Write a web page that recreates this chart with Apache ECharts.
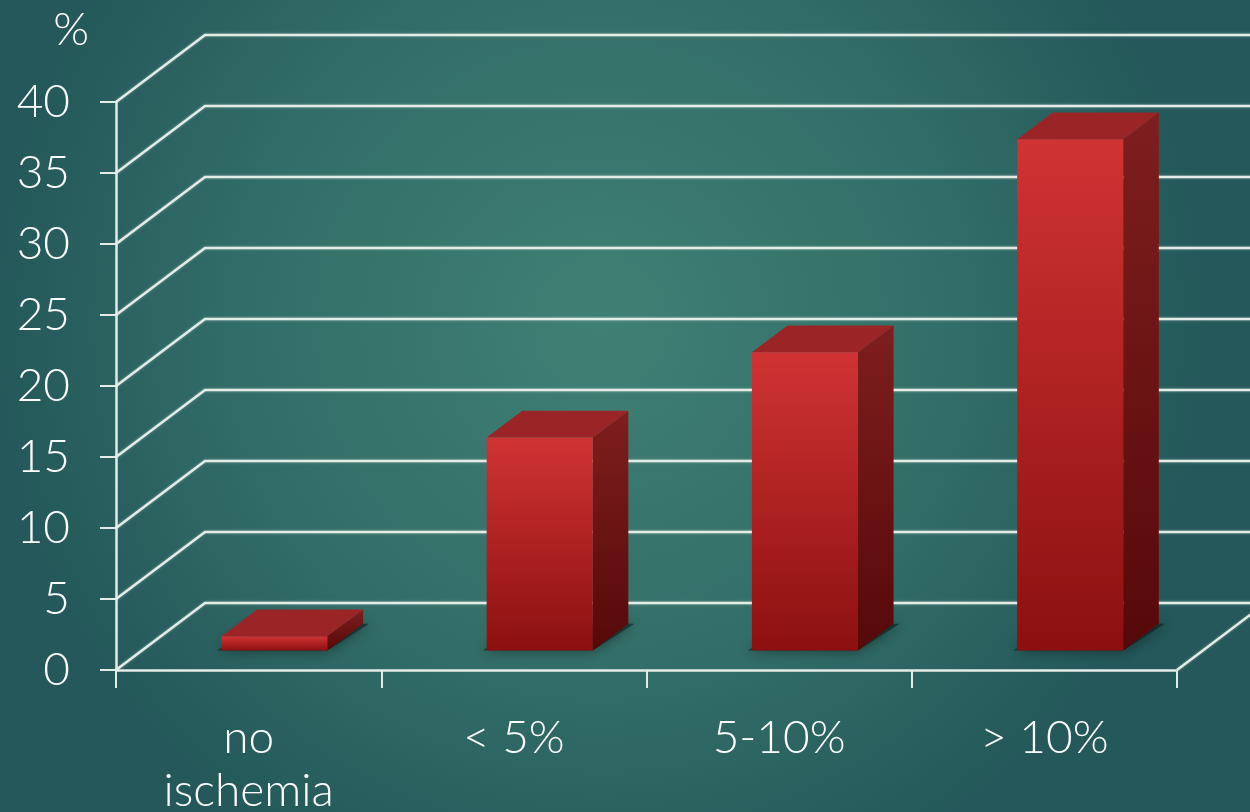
<!DOCTYPE html>
<html>
<head>
<meta charset="utf-8">
<title>Ischemia</title>
<script src="https://cdn.jsdelivr.net/npm/echarts@6/dist/echarts.min.js"></script>
<style>
  html, body { margin: 0; padding: 0; background: #2c6562; }
  #chart { width: 1250px; height: 812px; }
</style>
</head>
<body>
<div id="chart"></div>
<script>
// Categories along the floor and the percentage for each one
const categories = ['no\nischemia', '< 5%', '5-10%', '> 10%'];
const percentValues = [1, 15, 21, 36];
// Value ticks of the vertical axis (each gets a wall gridline)
const yTicks = [0, 5, 10, 15, 20, 25, 30, 35, 40];

// Perspective: depth vector of the floor (front edge -> back wall), in px
const DEPTH_X = 89;
const DEPTH_Y = -67;
// Bars stand between these depth fractions of the floor
const BAR_FRONT = 0.29;
const BAR_BACK = 0.69;
const BAR_WIDTH_RATIO = 0.4;

const FONT = 'Lato, "Open Sans", sans-serif';
const FONT_WEIGHT = 300;
const LINE_COLOR = '#e4ece8';

const chart = echarts.init(document.getElementById('chart'), null, { renderer: 'canvas' });

function linear(c0, c1) {
  return new echarts.graphic.LinearGradient(0, 0, 0, 1, [
    { offset: 0, color: c0 },
    { offset: 1, color: c1 }
  ]);
}

// Wall gridlines: front axis point -> diagonal to back wall -> across the wall
function renderGrid(params, api) {
  const v = api.value(0);
  const cs = params.coordSys;
  const y = api.coord([0, v])[1];
  const x0 = cs.x;
  const pts = [
    [x0, y],
    [x0 + DEPTH_X, y + DEPTH_Y],
    [api.getWidth() + 20, y + DEPTH_Y]
  ];
  const lineStyle = { stroke: LINE_COLOR, lineWidth: 2.5, fill: null, shadowBlur: 3, shadowColor: 'rgba(255,255,255,0.35)' };
  const children = [{ type: 'polyline', shape: { points: pts }, style: lineStyle, silent: true }];
  if (v === 0) {
    // right-hand floor edge
    const xr = cs.x + cs.width;
    children.push({
      type: 'line',
      shape: { x1: xr, y1: y, x2: xr + DEPTH_X, y2: y + DEPTH_Y },
      style: lineStyle,
      silent: true
    });
  }
  return { type: 'group', children: children };
}

// 3D bar: front face, right side face and top face, with a soft floor shadow
function renderBar(params, api) {
  const idx = api.value(0);
  const val = api.value(1);
  const base = api.coord([idx, 0]);
  const top = api.coord([idx, val]);
  const band = api.size([1, 0])[0];
  const w = band * BAR_WIDTH_RATIO;

  const x0 = base[0] - w / 2 + BAR_FRONT * DEPTH_X;
  const x1 = x0 + w;
  const yb = base[1] + BAR_FRONT * DEPTH_Y;
  const yt = top[1] + BAR_FRONT * DEPTH_Y;
  const bx = (BAR_BACK - BAR_FRONT) * DEPTH_X;
  const by = (BAR_BACK - BAR_FRONT) * DEPTH_Y;

  return {
    type: 'group',
    children: [
      {
        type: 'polygon',
        shape: { points: [[x0 - 4, yb], [x0 + bx, yb + by], [x1 + bx + 6, yb + by], [x1, yb]] },
        style: { fill: 'rgba(10,30,30,0.6)', shadowBlur: 14, shadowColor: 'rgba(0,0,0,0.75)' },
        silent: true
      },
      {
        type: 'polygon',
        shape: { points: [[x1, yt], [x1 + bx, yt + by], [x1 + bx, yb + by], [x1, yb]] },
        style: { fill: linear('#7f1e1e', '#560909') }
      },
      {
        type: 'polygon',
        shape: { points: [[x0, yt], [x0 + bx, yt + by], [x1 + bx, yt + by], [x1, yt]] },
        style: { fill: '#9b2526' }
      },
      {
        type: 'rect',
        shape: { x: x0, y: yt, width: w, height: yb - yt },
        style: { fill: linear('#d03334', '#8c1010') }
      }
    ]
  };
}

const option = {
  backgroundColor: 'transparent',
  animation: false,
  graphic: [{
    type: 'rect',
    z: -100,
    silent: true,
    shape: { x: 0, y: 0, width: 1250, height: 812 },
    style: {
      fill: new echarts.graphic.RadialGradient(0.48, 0.4, 0.75, [
        { offset: 0, color: '#3f8074' },
        { offset: 0.55, color: '#336f68' },
        { offset: 1, color: '#24585a' }
      ])
    }
  }],
  grid: {
    left: 116, right: 73, top: 102, bottom: 142,
    containLabel: false,
    outerBoundsMode: 'none'
  },
  xAxis: {
    type: 'category',
    data: categories,
    boundaryGap: true,
    axisLine: { show: true, lineStyle: { color: LINE_COLOR, width: 2.5 } },
    axisTick: { show: true, length: 18, lineStyle: { color: LINE_COLOR, width: 2 } },
    axisLabel: {
      color: '#ffffff',
      fontFamily: FONT,
      fontWeight: FONT_WEIGHT,
      fontSize: 46,
      lineHeight: 53,
      margin: 42,
      interval: 0
    },
    splitLine: { show: false }
  },
  yAxis: {
    type: 'value',
    min: 0,
    max: 40,
    interval: 5,
    name: '%',
    nameLocation: 'end',
    nameGap: 72,
    nameTextStyle: {
      color: '#ffffff', fontFamily: FONT, fontWeight: FONT_WEIGHT, fontSize: 46,
      align: 'right', verticalAlign: 'middle', padding: [0, 27, 0, 0]
    },
    axisLine: { show: true, lineStyle: { color: LINE_COLOR, width: 2.5 } },
    axisTick: { show: true, length: 16, lineStyle: { color: LINE_COLOR, width: 2 } },
    axisLabel: { color: '#ffffff', fontFamily: FONT, fontWeight: FONT_WEIGHT, fontSize: 46, margin: 46 },
    splitLine: { show: false }
  },
  series: [
    {
      type: 'custom',
      name: 'grid',
      z: 1,
      silent: true,
      renderItem: renderGrid,
      data: yTicks.map(function (v) { return [v]; }),
      encode: { y: 0 }
    },
    {
      type: 'custom',
      name: 'percent',
      z: 3,
      renderItem: renderBar,
      data: percentValues.map(function (v, i) { return [i, v]; }),
      encode: { x: 0, y: 1 }
    }
  ]
};

chart.setOption(option);
</script>
</body>
</html>
